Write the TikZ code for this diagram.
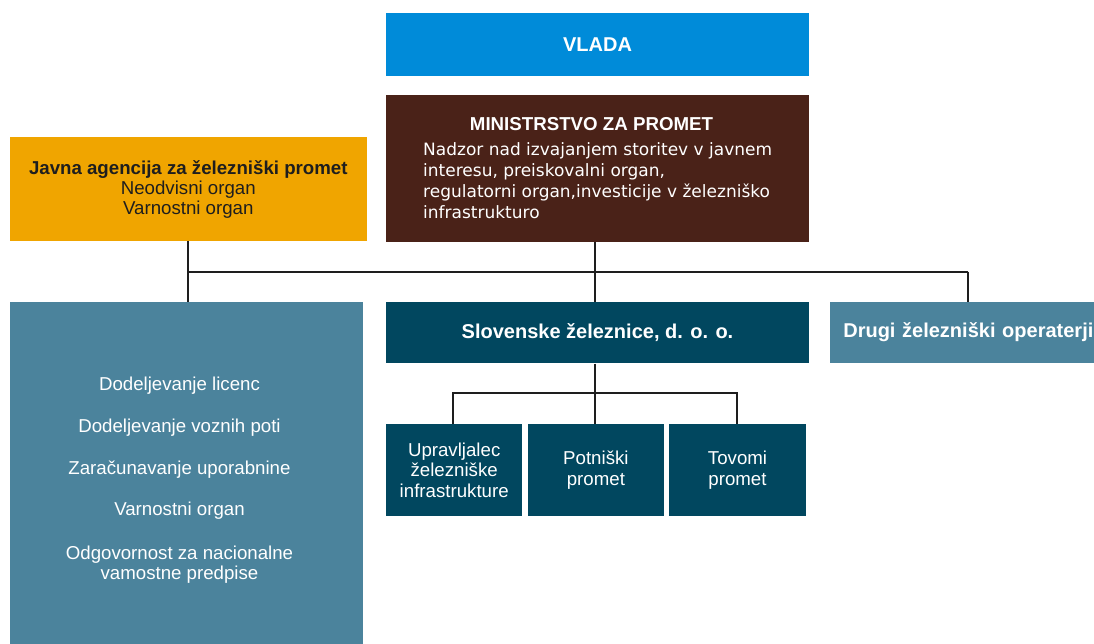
\documentclass[tikz,border=0pt]{standalone}
\usepackage{fontspec}
\setmainfont{Liberation Sans}
\newfontfamily\mzpfont{DejaVu Sans}
\usetikzlibrary{positioning}

\definecolor{vladablue}{HTML}{008BD9}
\definecolor{mzpbrown}{HTML}{4A2218}
\definecolor{agorange}{HTML}{F0A500}
\definecolor{lightteal}{HTML}{4B839C}
\definecolor{darkteal}{HTML}{01475F}
\definecolor{linegray}{HTML}{1E1E1E}

\newcommand{\orgfont}{\fontsize{18.67}{21}\selectfont}
\newcommand{\headfont}{\fontsize{20}{22}\selectfont\bfseries}

\tikzset{
    orgbox/.style={inner sep=0pt, text=white, align=center, font=\orgfont},
    link/.style={line width=2.3pt, color=linegray}
}

\begin{document}
\begin{tikzpicture}[x=1pt,y=-1pt]
    \useasboundingbox (0,0) rectangle (1094,644);

    % Top level
    \node[orgbox, fill=vladablue, minimum width=423, minimum height=62.7,
          font=\headfont] (vlada) at (597.5,44.7) {VLADA};

    % Ministry
    \node[orgbox, fill=mzpbrown, minimum width=423.6, minimum height=146.7] (mzp) at (597.5,168.3) {};
    \node[orgbox, font=\fontsize{18.7}{21}\selectfont\bfseries, anchor=base] (mzptitle) at (591.5,130.7)
        {MINISTRSTVO ZA PROMET};
    \node[orgbox, align=left, anchor=north west, font=\mzpfont\fontsize{17}{20.8}\selectfont] (mzpbody) at (423,142.6)
        {Nadzor nad izvajanjem storitev v javnem\\
         interesu, preiskovalni organ,\\
         regulatorni organ,investicije v železniško\\
         infrastrukturo};

    % Agency
    \node[orgbox, fill=agorange, text=linegray, minimum width=356.7, minimum height=103.4,
          font=\fontsize{18.67}{20}\selectfont] (jazp) at (188.3,189)
        {\textbf{Javna agencija za železniški promet}\\ Neodvisni organ\\ Varnostni organ};

    % Agency tasks
    \node[orgbox, fill=lightteal, minimum width=353.3, minimum height=356] (naloge) at (186.7,479.7) {};
    \node[orgbox, font=\fontsize{18.67}{20}\selectfont] (nalogetext) at (179.5,479.7)
        {Dodeljevanje licenc\\[22pt]
         Dodeljevanje voznih poti\\[22pt]
         Zaračunavanje uporabnine\\[21pt]
         Varnostni organ\\[24pt]
         Odgovornost za nacionalne\\ vamostne predpise};

    % Operators
    \node[orgbox, fill=darkteal, minimum width=423.3, minimum height=61.6,
          font=\headfont] (sz) at (597.5,332.5) {Slovenske železnice, d. o. o.};
    \node[orgbox, fill=lightteal, minimum width=290, minimum height=61.6, inner xsep=13.3pt,
          text width=263.4, align=left, font=\headfont] (drugi) at (975,332.5)
        {Drugi železniški operaterji};

    % Units of SZ
    \node[orgbox, fill=darkteal, minimum width=136.3, minimum height=91.4,
          font=\fontsize{18.67}{20.6}\selectfont] (upr) at (454.2,470)
        {Upravljalec\\ železniške\\ infrastrukture};
    \node[orgbox, fill=darkteal, minimum width=136.3, minimum height=91.4,
          font=\fontsize{18.67}{20.6}\selectfont] (pot) at (595.9,470) {Potniški\\ promet};
    \node[orgbox, fill=darkteal, minimum width=136.3, minimum height=91.4,
          font=\fontsize{18.67}{20.6}\selectfont] (tov) at (737.5,470) {Tovomi\\ promet};

    % branching coordinates
    \coordinate (bm) at (595,271.7);
    \coordinate (bl) at (188.3,271.7);
    \coordinate (br) at (967.7,271.7);
    \coordinate (sm) at (595,393.3);
    \coordinate (sl) at (453.3,393.3);
    \coordinate (sr) at (737.3,393.3);

    % Lines
    \draw[link] (bm |- mzp.south) -- (bm |- sz.north);
    \draw[link] (bl |- jazp.south) -- (bl |- naloge.north);
    \draw[link] (bl) -- (br);
    \draw[link] (br) -- (br |- drugi.north);
    \draw[link] (sm |- sz.south) -- (sm |- pot.north);
    \draw[link] (sl |- upr.north) -- (sl) -- (sr) -- (sr |- tov.north);
\end{tikzpicture}
\end{document}
